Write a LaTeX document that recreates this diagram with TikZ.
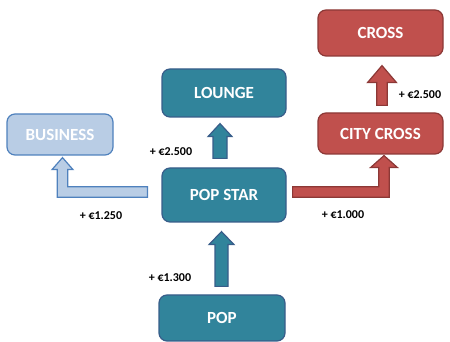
\documentclass[tikz,border=0pt]{standalone}
\usepackage{fontspec}
\setmainfont{Carlito}
\usetikzlibrary{calc}
\definecolor{popteal}{RGB}{49,132,155}
\definecolor{poptealline}{RGB}{56,93,138}
\definecolor{bizblue}{RGB}{185,205,229}
\definecolor{bizline}{RGB}{79,129,189}
\definecolor{crossred}{RGB}{192,80,77}
\definecolor{crossline}{RGB}{140,56,54}
\tikzset{
	model/.style={rounded corners=8pt,line width=1.2pt,text=white,inner sep=0pt,
		font=\bfseries\fontsize{17}{20}\selectfont},
	tealbox/.style={model,fill=popteal,draw=poptealline},
	bizbox/.style={model,fill=bizblue,draw=bizline},
	crossbox/.style={model,fill=crossred,draw=crossline},
	tealarrow/.style={fill=popteal,draw=poptealline,line width=1.2pt},
	bizarrow/.style={fill=bizblue,draw=bizline,line width=1.2pt},
	crossarrow/.style={fill=crossred,draw=crossline,line width=1.2pt},
	amount/.style={inner sep=0pt,font=\bfseries\fontsize{12}{14}\selectfont}
}
% block arrow going up: style, from, to, half shaft, half head, head length
\newcommand{\uparr}[6]{%
	\draw[#1] let \p1=#2, \p2=#3 in
	(\x1-#4pt,\y1) -- (\x1-#4pt,\y2-#6pt) -- (\x1-#5pt,\y2-#6pt) -- (\x1,\y2)
	-- (\x1+#5pt,\y2-#6pt) -- (\x1+#4pt,\y2-#6pt) -- (\x1+#4pt,\y1) -- cycle;}
% bent block arrow: style, start, tip, side (-1 left, 1 right), half head
\newcommand{\bentarr}[5]{%
	\draw[#1] let \p1=#2, \p2=#3 in
	(\x1,{\y1-5.3pt}) -- ({\x2+(#4)*5.3pt},{\y1-5.3pt}) -- ({\x2+(#4)*5.3pt},{\y2-12pt})
	-- ({\x2+(#4)*#5pt},{\y2-12pt}) -- (\x2,\y2) -- ({\x2-(#4)*#5pt},{\y2-12pt})
	-- ({\x2-(#4)*5.3pt},{\y2-12pt}) -- ({\x2-(#4)*5.3pt},{\y1+5.3pt}) -- (\x1,{\y1+5.3pt}) -- cycle;}
\begin{document}
\begin{tikzpicture}[x=1pt,y=1pt]
	\useasboundingbox (0,0) rectangle (450,342);
	% models
	\node[tealbox,minimum width=126pt,minimum height=46pt] (pop) at (222,24) {POP};
	\node[tealbox,minimum width=124pt,minimum height=54pt] (popstar) at (224,147) {POP STAR};
	\node[tealbox,minimum width=124pt,minimum height=48pt] (lounge) at (224,249) {LOUNGE};
	\node[bizbox,minimum width=106pt,minimum height=41pt] (business) at (60,207.5) {BUSINESS};
	\node[crossbox,minimum width=125pt,minimum height=41pt] (citycross) at (380.5,208.5) {CITY CROSS};
	\node[crossbox,minimum width=125pt,minimum height=46pt] (cross) at (380.5,309) {CROSS};
	% arrows
	\uparr{tealarrow}{($(pop.north)+(-0.5,8)$)}{($(popstar.south)+(0,-9)$)}{6.5}{12.5}{13}
	\uparr{tealarrow}{($(popstar.north)+(-4,9)$)}{($(lounge.south)+(0,-6)$)}{7}{12}{13}
	\uparr{crossarrow}{($(citycross.north)+(1.5,7)$)}{($(cross.south)+(0,-9)$)}{5.2}{14.5}{17}
	\bentarr{bizarrow}{($(popstar.west)+(-14,3)$)}{($(business.south)+(2.5,-2)$)}{-1}{10.5}
	\bentarr{crossarrow}{($(popstar.east)+(6,3)$)}{($(citycross.south)+(3.5,-1)$)}{1}{13.5}
	% prices
	\node[amount] (p1300) at (170,64.5) {+ €1.300};
	\node[amount] (p2500) at (171,190) {+ €2.500};
	\node[amount] (p1250) at (101,126.5) {+ €1.250};
	\node[amount] (p1000) at (343,127.5) {+ €1.000};
	\node[amount] (p2500b) at (420,247.5) {+ €2.500};
\end{tikzpicture}
\end{document}
